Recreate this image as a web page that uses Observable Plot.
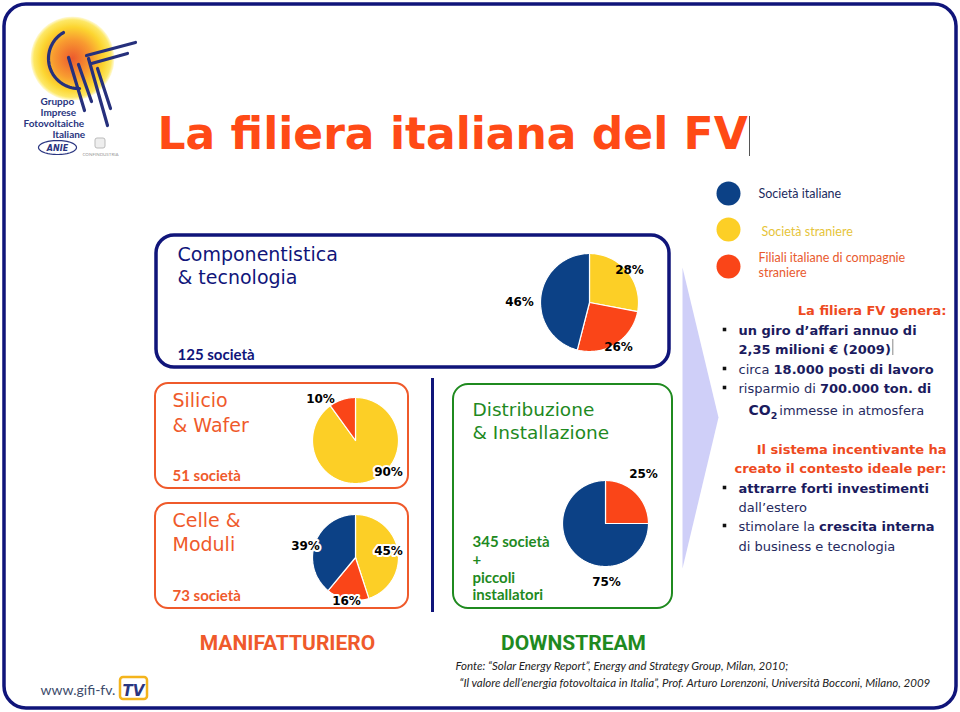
<!DOCTYPE html>
<html><head><meta charset="utf-8">
<script src="https://cdn.jsdelivr.net/npm/d3@7"></script>
<script src="https://cdn.jsdelivr.net/npm/@observablehq/plot@0.6"></script>
<style>html,body{margin:0;padding:0;background:#fff}svg{display:block}</style>
</head><body><div id="chart"></div>
<script>
// ---------- DATA ----------
const seriesKeys = ["italiane", "straniere", "filiali"];
const seriesNames = ["Società italiane", "Società straniere", "Filiali italiane di compagnie", "straniere"];
const componentisticaKeys = ["straniere", "filiali", "italiane"];
const componentisticaValues = [28, 26, 46];
const silicioKeys = ["straniere", "filiali"];
const silicioValues = [90, 10];
const celleKeys = ["straniere", "filiali", "italiane"];
const celleValues = [45, 16, 39];
const distribuzioneKeys = ["filiali", "italiane"];
const distribuzioneValues = [25, 75];
const segmentTitles = [["Componentistica", "& tecnologia"], ["Silicio", "& Wafer"], ["Celle &", "Moduli"], ["Distribuzione", "& Installazione"]];
const companyCounts = ["125 società", "51 società", "73 società", "345 società"];
const downstreamNote = ["+", "piccoli", "installatori"];
const sectionNames = ["MANIFATTURIERO", "DOWNSTREAM"];
const sources = ["Fonte: “Solar Energy Report”, Energy and Strategy Group, Milan, 2010;",
                 "“Il valore dell’energia fotovoltaica in Italia”, Prof. Arturo Lorenzoni, Università Bocconi, Milano, 2009"];

// ---------- STYLE ----------
const HEAD = "DejaVu Sans", BODY = "Lato";
const C = {italiane: "#0c4186", straniere: "#fccf26", filiali: "#fa4518",
  frame: "#10157a", orange: "#ef5a2b", green: "#1f8a1f", title: "#ff4a16",
  text: "#1b1b5e", red: "#ee4a1e", lav: "#cfcff8"};
const legendText = {italiane: "#1b2a5e", straniere: "#e6c43a", filiali: "#e85a2e"};

// ---------- LAYOUT ----------
const pies = [
  {id: "comp", keys: componentisticaKeys, values: componentisticaValues, cx: 589, cy: 302, r: 49,
   labels: [[629, 273], [618, 350], [519, 305]], halo: []},
  {id: "sil", keys: silicioKeys, values: silicioValues, cx: 355, cy: 440, r: 43,
   labels: [[388, 475], [320, 402]], halo: [0]},
  {id: "cel", keys: celleKeys, values: celleValues, cx: 355, cy: 557, r: 43,
   labels: [[388, 554], [346, 604], [305, 549]], halo: [0, 1, 2]},
  {id: "dis", keys: distribuzioneKeys, values: distribuzioneValues, cx: 605, cy: 523, r: 43,
   labels: [[643, 477], [606, 585]], halo: []}
];

function wedges(p) {
  const total = d3.sum(p.values);
  const pts = [];
  let a0 = 0;
  p.values.forEach((v, i) => {
    const a1 = a0 + v / total * 2 * Math.PI;
    const key = p.id + i, color = C[p.keys[i]];
    pts.push({x: p.cx, y: p.cy, key, color});
    const n = Math.max(2, Math.ceil((a1 - a0) / (Math.PI / 120)));
    for (let j = 0; j <= n; j++) {
      const a = a0 + (a1 - a0) * j / n;
      pts.push({x: p.cx + p.r * Math.sin(a), y: p.cy - p.r * Math.cos(a), key, color});
    }
    a0 = a1;
  });
  return pts;
}

const ctx = document.createElement("canvas").getContext("2d");
function measure(s, size, weight, family) {
  ctx.font = `${weight} ${size}px "${family}"`;
  return ctx.measureText(s).width;
}

const marks = [];
function T(text, x, y, o = {}) {
  marks.push(Plot.text([{text, x, y}], {
    x: "x", y: "y", text: "text", textAnchor: o.anchor || "start", lineAnchor: "bottom",
    fontSize: o.size || 14, fontWeight: o.weight || "normal", fontFamily: o.family || BODY,
    fontStyle: o.style || "normal", fill: o.color || "#000",
    ...(o.halo ? {stroke: "white", strokeWidth: 4} : {})
  }));
}
function R(x1, y1, x2, y2, o) {
  marks.push(Plot.rect([{x1, y1, x2, y2}], {x1: "x1", y1: "y1", x2: "x2", y2: "y2",
    rx: o.rx || 0, ry: o.rx || 0, fill: o.fill || "none", stroke: o.stroke, strokeWidth: o.sw || 2}));
}
function poly(points, o) {
  marks.push(Plot.line(points, {x: d => d[0], y: d => d[1], curve: o.closed ? "linear-closed" : "linear",
    fill: o.fill || "none", stroke: o.stroke || "none", strokeWidth: o.sw || 1, strokeLinecap: "round"}));
}

// outer frame
R(4, 4, 956, 708, {rx: 22, stroke: C.frame, sw: 3.5});

// logo sun
marks.push(Plot.dot([{x: 72, y: 58}], {x: "x", y: "y", r: 42, fill: "url(#sun)", stroke: "none"}));
const arc = d3.range(0, 41).map(j => { const a = (240 - (240 - 88) * j / 40) * Math.PI / 180; return [78 + 30 * Math.cos(a), 58 + 30 * Math.sin(a)]; });
poly(arc, {stroke: "#26307c", sw: 3.2});
[[[68, 57], [84, 110]], [[78, 64], [91, 101]], [[88, 58], [107, 125]], [[97, 68], [110, 108]],
 [[86, 55], [135, 42]], [[91, 63], [127, 53]]].forEach(s => poly(s, {stroke: "#26307c", sw: 3.2}));
T("Gruppo", 40, 104, {size: 10, weight: "bold", color: "#2a3580"});
T("Imprese", 40, 115, {size: 10, weight: "bold", color: "#2a3580"});
T("Fotovoltaiche", 23, 126, {size: 10, weight: "bold", color: "#2a3580"});
T("Italiane", 52, 137, {size: 10, weight: "bold", color: "#2a3580"});
poly(d3.range(0, 60).map(j => { const a = j / 60 * 2 * Math.PI; return [57 + 19 * Math.cos(a), 147 + 7 * Math.sin(a)]; }), {closed: true, stroke: "#2a3580", sw: 1.2, fill: "white"});
T("ANIE", 57, 150.5, {size: 8, weight: "bold", style: "italic", color: "#2a3580", anchor: "middle", family: HEAD});
R(95, 138, 105, 148, {rx: 2, stroke: "#bbb", sw: 1, fill: "#eee"});
T("CONFINDUSTRIA", 100, 155, {size: 4.5, color: "#999", anchor: "middle"});

// title
T("La filiera italiana del FV", 157, 148, {size: 44, weight: "bold", family: HEAD, color: C.title});
marks.push(Plot.ruleX([749], {x: d => d, y1: 116, y2: 156, stroke: "#555", strokeWidth: 1}));

// boxes
R(156, 235, 669, 367, {rx: 18, stroke: C.frame, sw: 3.5});
R(155, 383, 408, 488, {rx: 13, stroke: C.orange, sw: 2});
R(155, 503, 408, 608, {rx: 13, stroke: C.orange, sw: 2});
R(453, 384, 672, 608, {rx: 15, stroke: C.green, sw: 2});
marks.push(Plot.ruleX([432], {x: d => d, y1: 378, y2: 612, stroke: C.frame, strokeWidth: 3}));

// chevron arrow
poly([[682, 267], [718, 417], [682, 568]], {closed: true, fill: C.lav});

// box texts
T(segmentTitles[0][0], 177, 260, {size: 19, family: HEAD, color: C.frame});
T(segmentTitles[0][1], 177, 283, {size: 19, family: HEAD, color: C.frame});
T(companyCounts[0], 177, 359, {size: 15, weight: "bold", color: C.frame});
T(segmentTitles[1][0], 172, 406, {size: 19, family: HEAD, color: C.orange});
T(segmentTitles[1][1], 172, 431, {size: 19, family: HEAD, color: C.orange});
T(companyCounts[1], 172, 480, {size: 15, weight: "bold", color: C.orange});
T(segmentTitles[2][0], 172, 526, {size: 19, family: HEAD, color: C.orange});
T(segmentTitles[2][1], 172, 550, {size: 19, family: HEAD, color: C.orange});
T(companyCounts[2], 172, 600, {size: 15, weight: "bold", color: C.orange});
T(segmentTitles[3][0], 472, 415, {size: 18.5, family: HEAD, color: C.green});
T(segmentTitles[3][1], 472, 438, {size: 18.5, family: HEAD, color: C.green});
T(companyCounts[3], 472, 546, {size: 15, weight: "bold", color: C.green});
downstreamNote.forEach((s, i) => T(s, 472, [564, 582, 599][i], {size: 15, weight: "bold", color: C.green}));

// pies
pies.forEach(p => {
  marks.push(Plot.line(wedges(p), {x: "x", y: "y", z: "key", fill: "color", stroke: "white", strokeWidth: 1.2, curve: "linear-closed"}));
});
pies.forEach(p => {
  p.values.forEach((v, i) => T(`${v}%`, p.labels[i][0], p.labels[i][1],
    {size: 12, weight: "bold", family: HEAD, anchor: "middle", halo: p.halo.includes(i)}));
});

// legend
const legendY = [193, 229, 266];
marks.push(Plot.dot(seriesKeys.map((k, i) => ({k, y: legendY[i]})), {x: () => 728, y: "y", r: 12, fill: d => C[d.k]}));
T(seriesNames[0], 758, 197, {size: 12.5, color: legendText.italiane});
T(seriesNames[1], 761, 235, {size: 12.5, color: legendText.straniere});
T(seriesNames[2], 758, 261, {size: 12.5, color: legendText.filiali});
T(seriesNames[3], 758, 276, {size: 12.5, color: legendText.filiali});

// right-hand text
const RF = HEAD, RS = 13;
T("La filiera FV genera:", 946, 314, {size: RS, weight: "bold", family: RF, color: C.red, anchor: "end"});
T("Il sistema incentivante ha", 946, 453, {size: RS, weight: "bold", family: RF, color: C.red, anchor: "end"});
T("creato il contesto ideale per:", 946, 472, {size: RS, weight: "bold", family: RF, color: C.red, anchor: "end"});
const rich = [
  {y: 334, b: true, segs: [["un giro d’affari annuo di", true]]},
  {y: 353, segs: [["2,35 milioni € (2009)", true]], cursor: true},
  {y: 373, b: true, segs: [["circa ", false], ["18.000 posti di lavoro", true]]},
  {y: 392, b: true, segs: [["risparmio di ", false], ["700.000 ton. di", true]]},
  {y: 492, b: true, segs: [["attrarre forti investimenti", true]]},
  {y: 511, segs: [["dall’estero", false]]},
  {y: 530, b: true, segs: [["stimolare la ", false], ["crescita interna", true]]},
  {y: 550, segs: [["di business e tecnologia", false]]}
];
rich.forEach(line => {
  let x = 738;
  line.segs.forEach(([s, bold]) => {
    T(s, x, line.y, {size: RS, family: RF, weight: bold ? "bold" : "normal", color: bold ? C.text : "#262a5e"});
    x += measure(s, RS, bold ? "bold" : "normal", RF);
  });
  if (line.b) marks.push(Plot.dot([line.y - 5], {x: () => 724, y: d => d, symbol: "square", r: 2, fill: "#111"}));
  if (line.cursor) marks.push(Plot.ruleX([x + 2], {x: d => d, y1: line.y - 14, y2: line.y + 2, stroke: "#888", strokeWidth: 1}));
});
{
  let x = 748;
  T("CO", x, 414, {size: RS + 1, weight: "bold", family: RF, color: C.text}); x += measure("CO", RS + 1, "bold", RF);
  T("2", x, 418, {size: 9.5, weight: "bold", family: RF, color: C.text}); x += measure("2", 9.5, "bold", RF) + 2;
  T("immesse in atmosfera", x, 414, {size: RS, family: RF, color: "#262a5e"});
}

// section labels
T(sectionNames[0], 287, 649, {size: 21, weight: "bold", family: "Roboto", color: C.orange, anchor: "middle"});
T(sectionNames[1], 573, 649, {size: 21, weight: "bold", family: "Roboto", color: C.green, anchor: "middle"});

// sources
T(sources[0], 455, 669, {size: 11.5, style: "italic", color: "#222"});
T(sources[1], 459, 686, {size: 11.5, style: "italic", color: "#222"});

// bottom-left site
T("www.gifi-fv.", 40, 694, {size: 14, color: "#3d4b6b"});
R(120, 677, 147, 699, {rx: 3, stroke: "#f4b41c", sw: 2.5, fill: "white"});
T("TV", 133, 695, {size: 15, weight: "bold", style: "italic", color: "#2a3580", anchor: "middle", family: HEAD});

const chart = Plot.plot({
  width: 960, height: 712, margin: 0,
  x: {domain: [0, 960], range: [0, 960], axis: null},
  y: {domain: [0, 712], range: [0, 712], axis: null},
  color: {type: "identity"},
  style: {background: "white"},
  marks
});
const defs = d3.select(chart).insert("defs", ":first-child");
const g = defs.append("radialGradient").attr("id", "sun");
[["0%", "#ec5a2e"], ["45%", "#f89a30"], ["75%", "#fcd530"], ["92%", "#fde866"], ["100%", "#fffbe0"]]
  .forEach(([o, c]) => g.append("stop").attr("offset", o).attr("stop-color", c));
document.getElementById("chart").appendChild(chart);
</script>
</body></html>
